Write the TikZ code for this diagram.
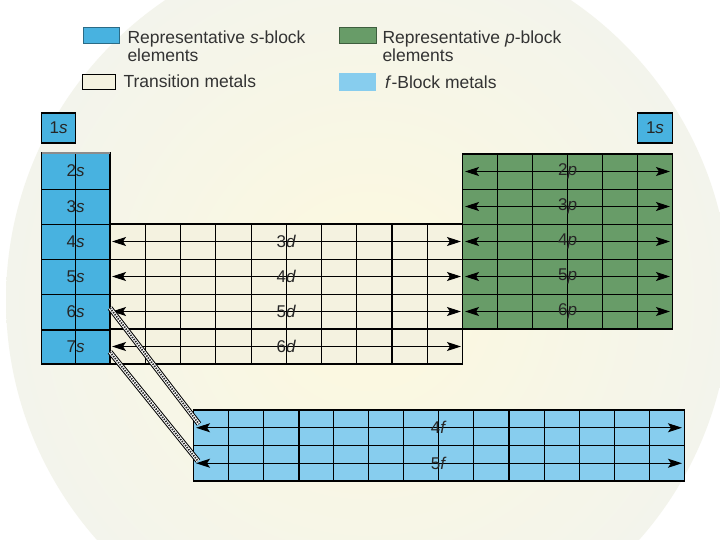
\documentclass[tikz,border=0pt]{standalone}
\usepackage{fontspec}
\setmainfont{Liberation Sans}
\usetikzlibrary{arrows.meta}
\definecolor{sblue}{RGB}{72,178,224}
\definecolor{pgreen}{RGB}{104,156,104}
\definecolor{dcream}{RGB}{244,242,224}
\definecolor{fblue}{RGB}{135,205,238}
\definecolor{bgin}{RGB}{253,249,222}
\definecolor{bgout}{RGB}{243,244,236}
\begin{document}
\begin{tikzpicture}[x=1pt,y=-1pt,
  gridln/.style={line width=0.8pt, draw=black},
  thickln/.style={line width=2pt, draw=black},
  outln/.style={line width=1.1pt, draw=black},
  lab/.style={font=\fontsize{17}{17}\selectfont, inner sep=0pt, text=black!85},
  leg/.style={font=\fontsize{17.5}{17.5}\selectfont, inner sep=0pt, anchor=base west, text=black!80},
  dbl/.style={{Stealth[length=14pt,width=9pt,inset=3pt]}-{Stealth[length=14pt,width=9pt,inset=3pt]}, line width=0.9pt},
  rope/.style={draw=black, line width=1pt, double=white, double distance=3.4pt},
  ropein/.style={draw=black!85, line width=1.8pt, dash pattern=on 1.4pt off 1.2pt}
]
\useasboundingbox (0,0) rectangle (720,540);
\fill[white] (0,0) rectangle (720,540);
\shade[inner color=bgin, outer color=bgout] (368,300) circle (362pt);

% legend
\filldraw[fill=sblue, draw=sblue!60!black] (82.7,27.3) rectangle (119.3,43.3);
\node[leg] (sleg1) at (127.3,44) {Representative \textit{s}-block};
\node[leg] (sleg2) at (127.3,62) {elements};
\filldraw[fill=dcream, draw=black, line width=1pt] (82.7,75) rectangle (115,90);
\node[leg] (tleg) at (123.3,88) {Transition metals};
\filldraw[fill=pgreen, draw=pgreen!60!black] (339.3,27.3) rectangle (376,43.3);
\node[leg] (pleg1) at (382.3,44) {Representative \textit{p}-block};
\node[leg] (pleg2) at (382.3,62) {elements};
\fill[fblue] (339.3,73.3) rectangle (376,90.7);
\node[leg] (fleg) at (385,89) {\textit{f}-Block metals};

% 1s boxes
\filldraw[fill=sblue, outln] (41.7,113) rectangle (75.7,143);
\node[lab] (s1l) at (58.7,128) {1\textit{s}};
\filldraw[fill=sblue, outln] (637.7,113) rectangle (672.3,143);
\node[lab] (s1r) at (655,128) {1\textit{s}};

% s column
\fill[sblue] (41.7,153) rectangle (110,364);
\foreach \y in {189,224,259,294} \draw[gridln] (41.7,\y) -- (110,\y);
\draw[thickln] (41.7,330) -- (110,330);
\draw[gridln] (75.7,153) -- (75.7,364);
\draw[outln] (41.7,153) rectangle (110,364);
\draw[line width=2pt, draw=black!45] (41.7,153) -- (110,153);
\node[lab] (s2) at (75.7,171) {2\textit{s}};
\node[lab] (s3) at (75.7,206.5) {3\textit{s}};
\node[lab] (s4) at (75.7,241.5) {4\textit{s}};
\node[lab] (s5) at (75.7,276.5) {5\textit{s}};
\node[lab] (s6) at (75.7,312) {6\textit{s}};
\node[lab] (s7) at (75.7,347) {7\textit{s}};

% d block
\fill[dcream] (110,224) rectangle (462.7,364);
\foreach \i in {1,...,9} \draw[gridln] ({110+35.27*\i},224) -- ++(0,140);
\draw[thickln] ({110+35.27*8},224) -- ++(0,140);
\foreach \y in {259,294} \draw[gridln] (110,\y) -- (462.7,\y);
\draw[thickln] (110,329) -- (462.7,329);
\foreach \y in {241.5,276.5,311.5} \draw[dbl] (112,\y) -- (461,\y);
\draw[dbl, line width=1.3pt] (112,346.5) -- (461,346.5);
\draw[outln] (110,224) rectangle (462.7,364);
\draw[thickln] (110,364) -- (462.7,364);
\node[lab] (d3) at (286.4,241.5) {3\textit{d}};
\node[lab] (d4) at (286.4,276.5) {4\textit{d}};
\node[lab] (d5) at (286.4,311.5) {5\textit{d}};
\node[lab] (d6) at (286.4,346.5) {6\textit{d}};

% p block
\fill[pgreen] (462.7,154) rectangle (672.3,329);
\foreach \i in {1,...,5} \draw[gridln] ({462.7+34.93*\i},154) -- ++(0,175);
\foreach \y in {189,224,259,294} \draw[gridln] (462.7,\y) -- (672.3,\y);
\foreach \y in {171.5,206.5,241.5,276.5} \draw[dbl] (465,\y) -- (670,\y);
\draw[dbl, line width=1.5pt] (465,311.5) -- (670,311.5);
\draw[outln] (462.7,154) rectangle (672.3,329);
\node[lab] (p2) at (567.5,171.5) {2\textit{p}};
\node[lab] (p3) at (567.5,206.5) {3\textit{p}};
\node[lab] (p4) at (567.5,241.5) {4\textit{p}};
\node[lab] (p5) at (567.5,276.5) {5\textit{p}};
\node[lab] (p6) at (567.5,311.5) {6\textit{p}};

% f block
\fill[fblue] (193.3,410) rectangle (684.3,481);
\foreach \i in {1,...,13} \draw[gridln] ({193.3+35.07*\i},410) -- ++(0,71);
\foreach \i in {3,9} \draw[thickln] ({193.3+35.07*\i},410) -- ++(0,71);
\draw[gridln] (193.3,445.5) -- (684.3,445.5);
\draw[dbl] (196,427.75) -- (682,427.75);
\draw[dbl, line width=1.2pt] (196,463.25) -- (682,463.25);
\draw[outln] (193.3,410) rectangle (684.3,481);
\draw[thickln] (193.3,481) -- (684.3,481);
\node[lab] (f4) at (438.8,427.75) {4\textit{f}};
\node[lab] (f5) at (438.8,463.25) {5\textit{f}};

% connectors
\coordinate (c6s) at (110,308);
\coordinate (c7s) at (110,352);
\coordinate (c4f) at (199,424);
\coordinate (c5f) at (198,461);
\draw[rope] (c6s) -- (c4f);
\draw[ropein] (c6s) -- (c4f);
\draw[rope] (c7s) -- (c5f);
\draw[ropein] (c7s) -- (c5f);
\end{tikzpicture}
\end{document}
